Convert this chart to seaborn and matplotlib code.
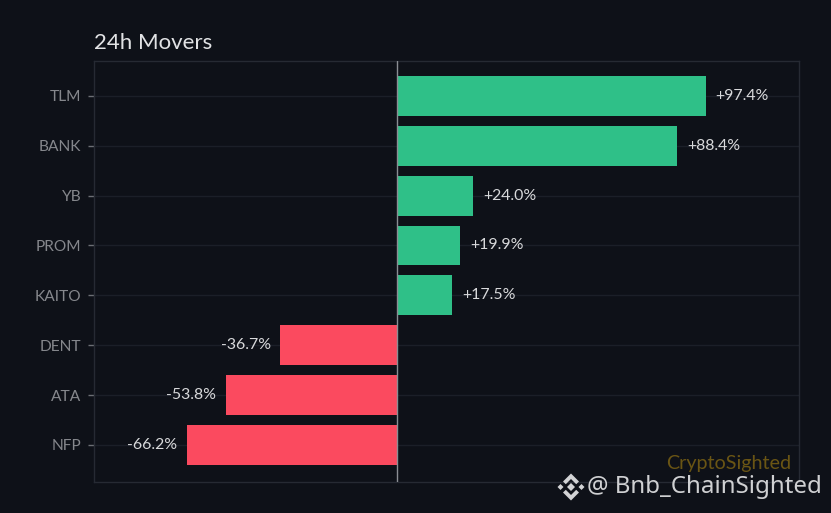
import matplotlib
matplotlib.use("Agg")
import matplotlib.pyplot as plt
from matplotlib.patches import Polygon
from matplotlib.transforms import Affine2D
import pandas as pd
import seaborn as sns

symbols = ["TLM", "BANK", "YB", "PROM", "KAITO", "DENT", "ATA", "NFP"]
changes = [97.4, 88.4, 24.0, 19.9, 17.5, -36.7, -53.8, -66.2]

BG = "#0e1118"
GREEN = "#2fc088"
RED = "#fb4a5f"
GRID = "#1b1f28"
SPINE = "#262a33"

sns.set_theme(style="dark")
plt.rcParams["font.family"] = ["Lato", "DejaVu Sans"]

df = pd.DataFrame({"symbol": symbols, "change": changes})
df["direction"] = ["up" if c > 0 else "down" for c in changes]

W, H = 831, 513
fig = plt.figure(figsize=(W / 100, H / 100), dpi=100, facecolor=BG)
ax = fig.add_axes([94.2 / W, 1 - 481.5 / H, 704.8 / W, 420.5 / H], facecolor=BG)

sns.barplot(data=df, x="change", y="symbol", hue="direction", order=symbols,
            palette={"up": GREEN, "down": RED}, dodge=False, width=0.8,
            saturation=1, legend=False, linewidth=0, ax=ax)

# barplot switches the category grid off, so set it afterwards
ax.set_axisbelow(True)
ax.grid(axis="y", color=GRID, linewidth=1)
ax.grid(axis="x", visible=False)

ax.axvline(0, color="#8b8e94", linewidth=1, zorder=5)

ax.set_xlim(-95.4, 126.7)
ax.set_ylim(7.735, -0.70)
ax.set_xlabel("")
ax.set_ylabel("")
ax.set_xticks([])
ax.tick_params(axis="y", length=4.3, width=1, color="#6c6f75", labelcolor="#85878c",
               labelsize=11.2, pad=5, left=True)

for s in ax.spines.values():
    s.set_color(SPINE)
    s.set_linewidth(1)

for i, c in enumerate(changes):
    label = f"{c:+.1f}%"
    if c > 0:
        ax.annotate(label, (c, i), xytext=(7, 0), textcoords="offset points",
                    va="center", ha="left", color="#d8d9db", fontsize=11.4)
    else:
        ax.annotate(label, (c, i), xytext=(-7, 0), textcoords="offset points",
                    va="center", ha="right", color="#d8d9db", fontsize=11.4)

ax.set_title("24h Movers", loc="left", color="#e2e3e5", fontsize=16, pad=8.5)

# watermarks
fig.text(791 / W, 1 - 463 / H, "CryptoSighted", color="#6a5514", fontsize=14.2,
         ha="right", va="center")
fig.text(822 / W, 1 - 487 / H, "@ Bnb_ChainSighted", color="#cfd0d2", fontsize=17.3,
         ha="right", va="center", family=["Noto Sans", "DejaVu Sans"])

# binance logo, pixel offsets round the centre
logo = Affine2D().scale(1, -1).translate(571, H - 487)
logo_parts = [
    [(-13.5, 0), (-10.5, -3), (-7.5, 0), (-10.5, 3)],
    [(13.5, 0), (10.5, -3), (7.5, 0), (10.5, 3)],
    [(0, -4), (4, 0), (0, 4), (-4, 0)],
    [(0, -13.5), (8, -5.5), (5.2, -2.8), (0, -8), (-5.2, -2.8), (-8, -5.5)],
    [(0, 13.5), (8, 5.5), (5.2, 2.8), (0, 8), (-5.2, 2.8), (-8, 5.5)],
]
for part in logo_parts:
    fig.add_artist(Polygon(part, closed=True, facecolor="#d2d3d5", edgecolor="none",
                           transform=logo))

fig.savefig("out.png", dpi=100, facecolor=BG)
